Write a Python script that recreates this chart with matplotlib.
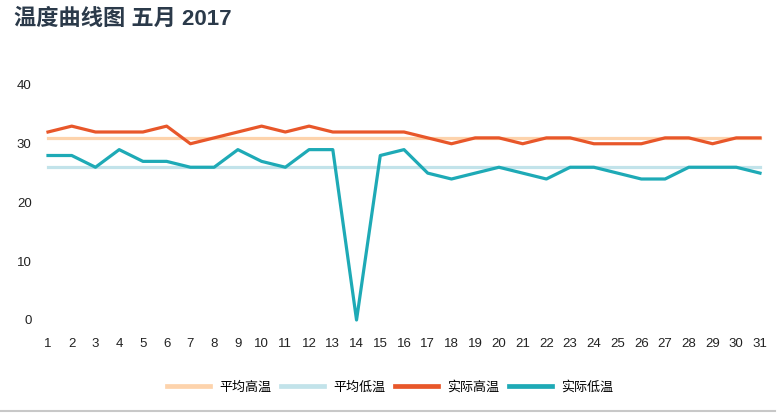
import matplotlib
matplotlib.use("Agg")
import matplotlib.pyplot as plt
from matplotlib.lines import Line2D

plt.rcParams['font.family'] = ['Liberation Sans', 'Noto Sans CJK SC', 'DejaVu Sans']

days = list(range(1, 32))
day_labels = [str(d) for d in days]
actual_high = [32, 33, 32, 32, 32, 33, 30, 31, 32, 33, 32, 33, 32, 32, 32, 32,
               31, 30, 31, 31, 30, 31, 31, 30, 30, 30, 31, 31, 30, 31, 31]
actual_low = [28, 28, 26, 29, 27, 27, 26, 26, 29, 27, 26, 29, 29, 0, 28, 29,
              25, 24, 25, 26, 25, 24, 26, 26, 25, 24, 24, 26, 26, 26, 25]
avg_high = [31] * 31
avg_low = [26] * 31
yticks = [0, 10, 20, 30, 40]
series_names = ['平均高温', '平均低温', '实际高温', '实际低温']
colors = ['#fdd3ac', '#c2e3ea', '#e8572a', '#1eaab6']

W, H = 779, 413
fig = plt.figure(figsize=(W / 100, H / 100), dpi=100)
ax = fig.add_axes([48 / W, (H - 320) / H, (760 - 48) / W, (320 - 85) / H])

lw = 2.3
ax.plot(days, avg_high, color=colors[0], lw=lw, clip_on=False, zorder=2)
ax.plot(days, avg_low, color=colors[1], lw=lw, clip_on=False, zorder=2)
ax.plot(days, actual_high, color=colors[2], lw=lw, clip_on=False, zorder=3)
ax.plot(days, actual_low, color=colors[3], lw=lw, clip_on=False, zorder=3)

ax.set_xlim(1, 31)
ax.set_ylim(0, 40)
ax.set_xticks(days)
ax.set_xticklabels(day_labels)
ax.set_yticks(yticks)
ax.set_yticklabels([str(v) for v in yticks])
ax.tick_params(axis='both', length=0, labelsize=9.5, colors='#222222')
ax.tick_params(axis='x', pad=12.8)
ax.tick_params(axis='y', pad=11.8)
for s in ax.spines.values():
    s.set_visible(False)

fig.text(14 / W, 1 - 19 / H, '温度曲线图 五月 2017', fontsize=16, fontweight='bold',
         color='#2b3a4a', va='center', ha='left',
         family=['Liberation Sans', 'Noto Sans CJK SC'])

handles = [Line2D([0], [0], color=c, lw=3.4) for c in colors]
fig.legend(handles, series_names, loc='center', bbox_to_anchor=(390 / W, 1 - 387 / H),
           ncol=4, frameon=False, handlelength=3.3, columnspacing=0.75,
           handletextpad=0.7, prop={'family': ['Noto Sans CJK SC'], 'size': 9.4})

fig.add_artist(Line2D([0, 775 / W], [1 - 411 / H, 1 - 411 / H], color='#c8c8c8', lw=1.5,
                      transform=fig.transFigure))

fig.savefig('out.png', dpi=100)
